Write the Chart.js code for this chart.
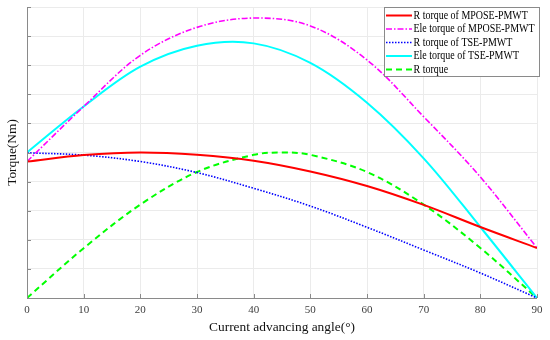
<!DOCTYPE html>
<html>
<head>
<meta charset="utf-8">
<script src="https://cdn.jsdelivr.net/npm/chart.js@4/dist/chart.umd.min.js"></script>
<style>
html,body{margin:0;padding:0;background:#fff;}
#c{display:block;}
</style>
</head>
<body>
<canvas id="c" width="550" height="340"></canvas>
<script>
const angles = [0, 10, 20, 30, 40, 50, 60, 70, 80, 90];
const xTickLabels = ['0','10','20','30','40','50','60','70','80','90'];
const rTorqueMPOSE   = [4.69, 4.91, 5.00, 4.92, 4.72, 4.35, 3.85, 3.20, 2.44, 1.72];
const eleTorqueMPOSE = [4.69, 6.58, 8.34, 9.30, 9.62, 9.35, 8.18, 6.23, 4.16, 1.72];
const rTorqueTSE     = [4.99, 4.91, 4.69, 4.31, 3.77, 3.16, 2.43, 1.65, 0.86, 0.00];
const eleTorqueTSE   = [5.00, 6.58, 7.95, 8.67, 8.75, 8.08, 6.71, 4.80, 2.44, 0.00];
const greenAngles    = [0, 10, 20, 30, 40, 45, 50, 60, 70, 80, 90];
const rTorque        = [0.00, 1.71, 3.21, 4.33, 4.92, 5.00, 4.92, 4.33, 3.21, 1.72, 0.00];
const seriesNames = ['R torque of MPOSE-PMWT','Ele torque of MPOSE-PMWT','R torque of TSE-PMWT','Ele torque of TSE-PMWT','R torque'];

const pts = (xs, ys) => xs.map((x, i) => ({x: x, y: ys[i]}));

const serif = "'Liberation Serif', 'Times New Roman', serif";

const ds = [
  {label: seriesNames[0], data: pts(angles, rTorqueMPOSE), borderColor: '#ff0000', borderWidth: 2, borderDash: []},
  {label: seriesNames[1], data: pts(angles, eleTorqueMPOSE), borderColor: '#ff00ff', borderWidth: 1.6, borderDash: [6, 2, 1.5, 2]},
  {label: seriesNames[2], data: pts(angles, rTorqueTSE), borderColor: '#0000ff', borderWidth: 1.6, borderDash: [1.5, 1.5]},
  {label: seriesNames[3], data: pts(angles, eleTorqueTSE), borderColor: '#00ffff', borderWidth: 2, borderDash: []},
  {label: seriesNames[4], data: pts(greenAngles, rTorque), borderColor: '#00ff00', borderWidth: 2, borderDash: [6, 4]}
].map(d => Object.assign(d, {pointRadius: 0, fill: false, tension: 0.35}));

const inwardTicks = {
  id: 'inwardTicks',
  afterDraw(chart) {
    const ctx = chart.ctx;
    const xs = chart.scales.x, ys = chart.scales.y;
    const a = chart.chartArea;
    ctx.save();
    ctx.strokeStyle = '#8a8a8a';
    ctx.lineWidth = 1;
    ctx.beginPath();
    ctx.moveTo(a.left + 0.5, a.top);
    ctx.lineTo(a.left + 0.5, a.bottom + 0.5);
    ctx.lineTo(a.right, a.bottom + 0.5);
    ctx.stroke();
    ctx.beginPath();
    angles.forEach(v => {
      const px = Math.round(xs.getPixelForValue(v)) + 0.5;
      ctx.moveTo(px, a.bottom);
      ctx.lineTo(px, a.bottom - 4);
    });
    for (let v = 0; v <= 10; v++) {
      const py = Math.round(ys.getPixelForValue(v)) + 0.5;
      ctx.moveTo(a.left, py);
      ctx.lineTo(a.left + 4, py);
    }
    ctx.stroke();
    ctx.restore();
  }
};

const boxLegend = {
  id: 'boxLegend',
  afterDraw(chart) {
    const ctx = chart.ctx;
    const x0 = 384, y0 = 7, w = 155, h = 69;
    ctx.save();
    ctx.fillStyle = '#ffffff';
    ctx.fillRect(x0, y0, w, h);
    ctx.strokeStyle = '#8a8a8a';
    ctx.lineWidth = 1;
    ctx.strokeRect(x0 + 0.5, y0 + 0.5, w, h);
    ctx.font = '11.5px ' + serif;
    ctx.textBaseline = 'middle';
    const longest = Math.max(...chart.data.datasets.map(d => ctx.measureText(d.label).width));
    const sx = Math.min(1, 121 / longest);
    chart.data.datasets.forEach((d, i) => {
      const y = y0 + 8.5 + i * 13.5;
      ctx.beginPath();
      ctx.strokeStyle = d.borderColor;
      ctx.lineWidth = d.borderWidth;
      ctx.setLineDash(d.borderDash || []);
      ctx.moveTo(x0 + 2, y);
      ctx.lineTo(x0 + 28, y);
      ctx.stroke();
      ctx.setLineDash([]);
      ctx.fillStyle = '#000';
      ctx.save();
      ctx.translate(x0 + 29.5, y);
      ctx.scale(sx, 1);
      ctx.fillText(d.label, 0, 0);
      ctx.restore();
    });
    ctx.restore();
  }
};

new Chart(document.getElementById('c'), {
  type: 'line',
  data: {datasets: ds},
  options: {
    responsive: false,
    animation: false,
    layout: {padding: {top: 7, right: 13, left: 0, bottom: 0}},
    plugins: {legend: {display: false}, tooltip: {enabled: false}},
    scales: {
      x: {
        type: 'linear', min: 0, max: 90,
        afterFit(s) { s.height = 42; },
        afterBuildTicks(s) { s.ticks = angles.map(v => ({value: v})); },
        ticks: {stepSize: 10, padding: 6, color: '#404040', font: {family: serif, size: 11},
                callback: (v) => xTickLabels[angles.indexOf(v)], maxRotation: 0},
        grid: {color: '#ebebeb', drawTicks: false},
        border: {display: false},
        title: {display: true, text: 'Current advancing angle(°)', color: '#111', font: {family: serif, size: 13.4}, padding: {top: 0, bottom: 4}}
      },
      y: {
        min: 0, max: 10,
        afterFit(s) { s.width = 27; },
        ticks: {stepSize: 1, display: false},
        grid: {color: '#ebebeb', drawTicks: false},
        border: {display: false},
        title: {display: true, text: 'Torque(Nm)', color: '#111', font: {family: serif, size: 13.4}, padding: {top: 4, bottom: 0}}
      }
    }
  },
  plugins: [inwardTicks, boxLegend]
});
</script>
</body>
</html>
